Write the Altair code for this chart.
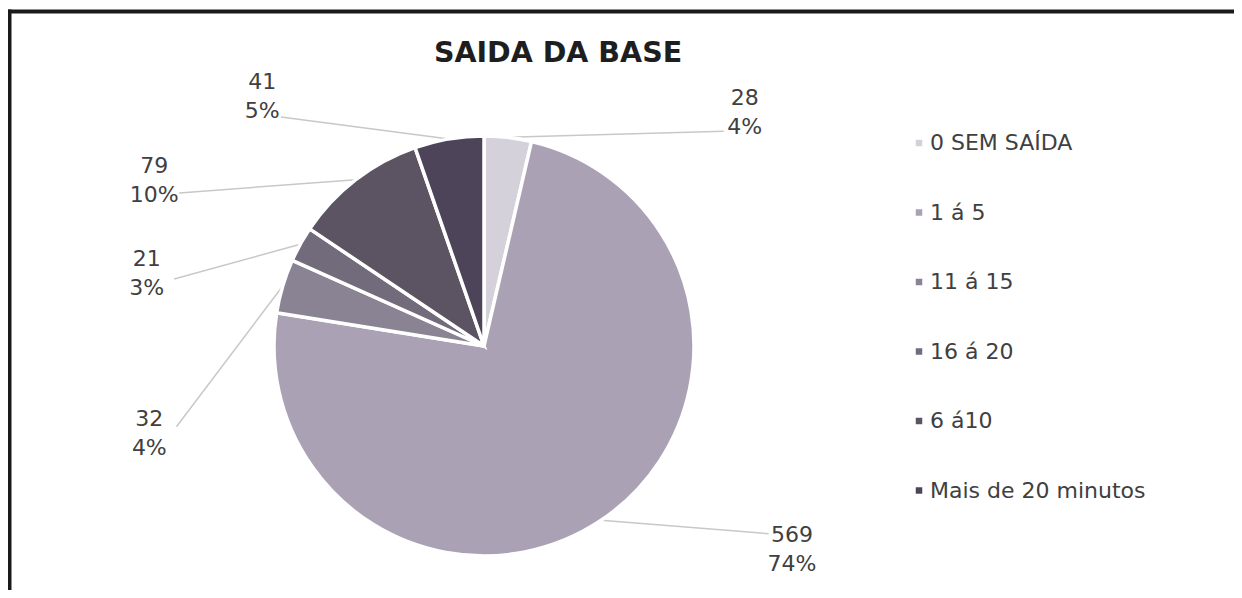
import altair as alt
import pandas as pd

# ---- data ----
categories = ["0 SEM SAÍDA", "1 á 5", "11 á 15", "16 á 20", "6 á10", "Mais de 20 minutos"]
counts = [28, 569, 32, 21, 79, 41]

# ---- styling / label layout (not data) ----
colors = ["#d4d1da", "#aaa2b4", "#8a8394", "#726b7b", "#5d5463", "#4e4459"]
label_shift_deg = [41.6, -22.7, -31.3, -16.8, -25.7, -32.0]   # Excel "best fit" label nudge
label_radius = [350, 369, 346, 345, 369, 334]

CX, CY, R = 476, 338, 210
FONT = "DejaVu Sans"
LH = 29

df = pd.DataFrame({
    "cat": categories,
    "count": counts,
    "order": list(range(len(categories))),
    "shift": label_shift_deg,
    "lr": label_radius,
})

base = (
    alt.Chart(df)
    .transform_joinaggregate(total="sum(count)")
    .transform_window(cum="sum(count)", sort=[alt.SortField("order")], frame=[None, 0])
    .transform_calculate(
        mid="2*PI*(datum.cum - datum.count/2)/datum.total",
        pct="datum.count/datum.total",
    )
    .transform_calculate(
        lt="datum.mid + datum.shift*PI/180",
        lab="[format(datum.count, 'd'), format(datum.pct, '.0%')]",
    )
    .transform_calculate(
        x1=f"{CX} + {R}*sin(datum.mid)",
        y1=f"{CY} - {R}*cos(datum.mid)",
        x2=f"{CX} + (datum.lr-28)*sin(datum.lt)",
        y2=f"{CY} - (datum.lr-28)*cos(datum.lt)",
    )
)

pie = alt.Chart(df).mark_arc(outerRadius=R, stroke="white", strokeWidth=3.5).encode(
    theta=alt.Theta("count:Q", stack=True),
    order=alt.Order("order:Q"),
    color=alt.Color(
        "cat:N",
        scale=alt.Scale(domain=categories, range=colors),
        legend=alt.Legend(
            orient="none", legendX=900, legendY=124, title=None,
            symbolType="square", symbolSize=42, symbolStrokeWidth=0,
            labelFontSize=22, labelFont=FONT, labelColor="#404040",
            labelLimit=0, rowPadding=47.5, labelOffset=0, padding=0,
        ),
    ),
    x=alt.value(CX),
    y=alt.value(CY),
)

leaders = base.mark_rule(color="#c8c8c8", strokeWidth=1.5).encode(
    x=alt.X("x1:Q", scale=None, axis=None),
    y=alt.Y("y1:Q", scale=None, axis=None),
    x2="x2:Q",
    y2="y2:Q",
)

labels = base.mark_text(
    fontSize=22, font=FONT, color="#404040", align="center", baseline="middle",
    lineHeight=LH, dy=-LH / 2,
).encode(
    x=alt.value(CX),
    y=alt.value(CY),
    theta=alt.Theta("lt:Q", scale=None),
    radius=alt.Radius("lr:Q", scale=None),
    text="lab:N",
)

one = pd.DataFrame({"k": [0]})
title = alt.Chart(one).mark_text(
    text="SAIDA DA BASE", fontSize=28.5, fontWeight="bold", font=FONT, color="#1e1e1e",
    align="center", baseline="middle",
).encode(x=alt.value(550), y=alt.value(45))

frame_top = alt.Chart(one).mark_rule(color="#1a1a1a", strokeWidth=4).encode(
    x=alt.value(-1), x2=alt.value(1226), y=alt.value(3.5)
)
frame_left = alt.Chart(one).mark_rule(color="#1a1a1a", strokeWidth=4).encode(
    x=alt.value(1.5), y=alt.value(1.5), y2=alt.value(582)
)

chart = (
    alt.layer(frame_top, frame_left, leaders, pie, labels, title)
    .properties(width=1226, height=582, padding=0, autosize="none", background="white")
    .configure_view(strokeWidth=0)
)

chart.save("out.html", embed_options={"renderer": "svg", "actions": False})
